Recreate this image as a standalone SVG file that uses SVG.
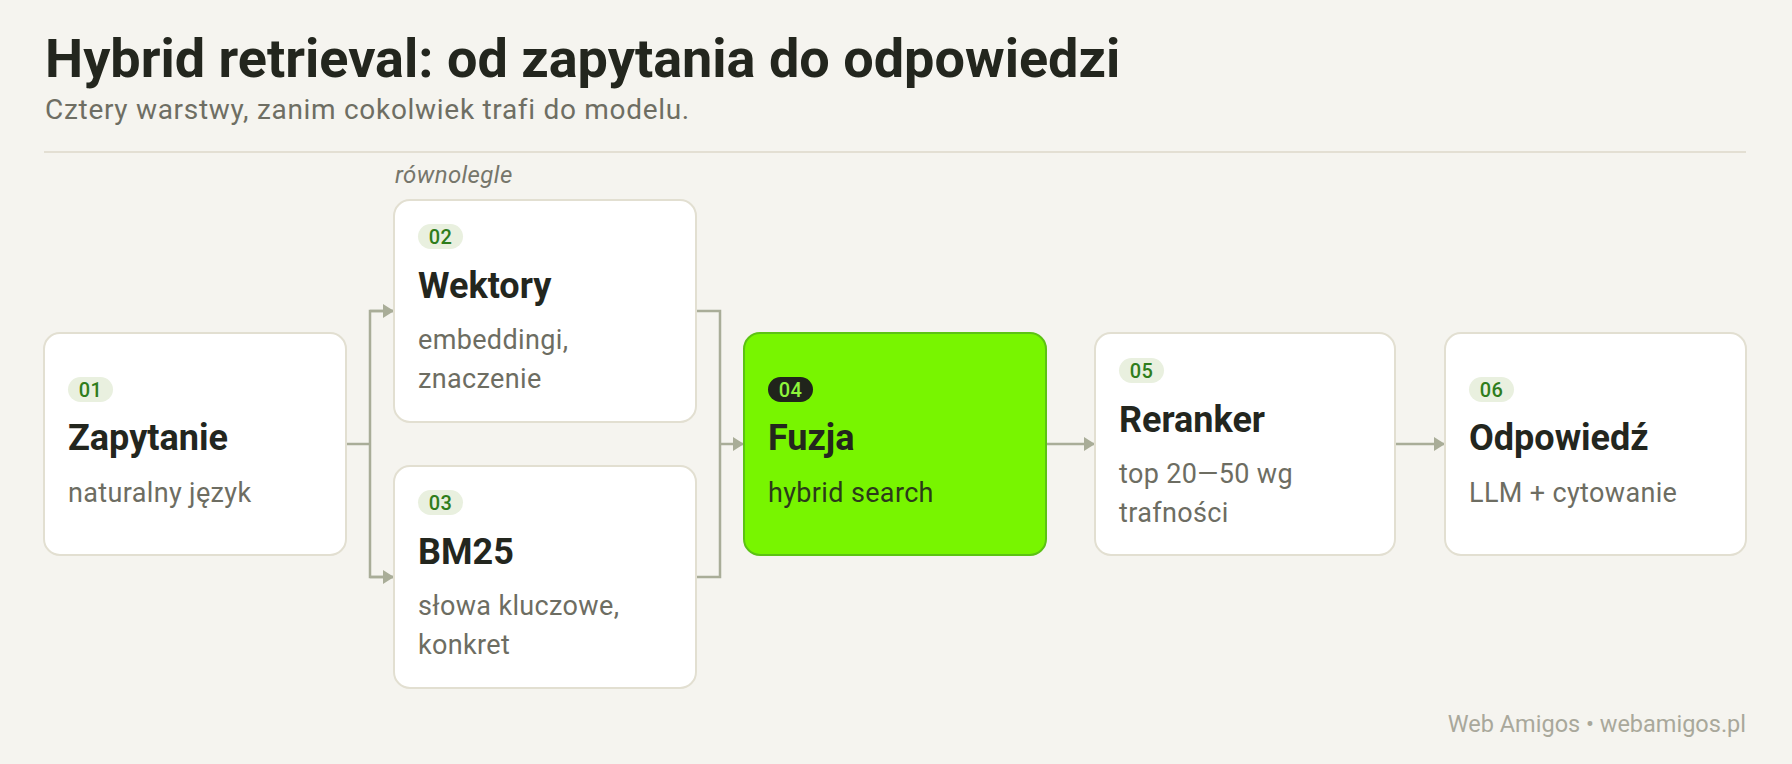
<svg xmlns="http://www.w3.org/2000/svg" width="1792" height="764" viewBox="0 0 1792 764">
<style>
.bg{fill:#f5f4ef}
.title{font-family:Roboto,"Liberation Sans",sans-serif;font-weight:700;font-size:54px;fill:#23261e}
.subtitle{font-family:Roboto,"Liberation Sans",sans-serif;font-size:28px;letter-spacing:0.7px;fill:#6e6e63}
.note{font-family:Roboto,"Liberation Sans",sans-serif;font-style:italic;font-size:24px;letter-spacing:0.4px;fill:#76766b}
.card{fill:#ffffff;stroke:#e2dfd1;stroke-width:2}
.card-hl{fill:#78f500;stroke:#5cc214;stroke-width:2}
.pill{fill:#e9f0df}
.pill-dark{fill:#20241b}
.num{font-family:Roboto,"Liberation Sans",sans-serif;font-weight:500;font-size:20px;letter-spacing:0.5px;fill:#2f7d1c;text-anchor:middle}
.num-hl{fill:#8ff53a}
.h{font-family:Roboto,"Liberation Sans",sans-serif;font-weight:700;font-size:36px;fill:#23261e}
.d{font-family:Roboto,"Liberation Sans",sans-serif;font-size:27px;letter-spacing:0.35px;fill:#6d6d62}
.d-hl{fill:#2b3a1a}
.conn{fill:none;stroke:#a9ad98;stroke-width:2.5}
.foot{font-family:Roboto,"Liberation Sans",sans-serif;font-size:23.5px;fill:#a9a89b;text-anchor:end}
</style>
<defs>
<marker id="arr" markerUnits="userSpaceOnUse" markerWidth="12" markerHeight="16" refX="11" refY="7" orient="auto">
<path d="M0,0 L11,7 L0,14 z" fill="#a9ad98"/>
</marker>
</defs>
<rect class="bg" x="0" y="0" width="1792" height="764"/>
<text class="title" x="45" y="77">Hybrid retrieval: od zapytania do odpowiedzi</text>
<text class="subtitle" x="45" y="119">Cztery warstwy, zanim cokolwiek trafi do modelu.</text>
<rect x="44" y="151" width="1702" height="2" fill="#e3dfd3"/>
<text class="note" x="395" y="183">równolegle</text>

<g id="connectors">
<polyline class="conn" points="346,444 370,444"/>
<polyline class="conn" points="394,311 370,311 370,577 394,577"/>
<line class="conn" x1="370" y1="311" x2="394" y2="311" marker-end="url(#arr)"/>
<line class="conn" x1="370" y1="577" x2="394" y2="577" marker-end="url(#arr)"/>
<polyline class="conn" points="696,311 720,311 720,577 696,577"/>
<line class="conn" x1="720" y1="444" x2="744" y2="444" marker-end="url(#arr)"/>
<line class="conn" x1="1046" y1="444" x2="1095" y2="444" marker-end="url(#arr)"/>
<line class="conn" x1="1395" y1="444" x2="1445" y2="444" marker-end="url(#arr)"/>
</g>

<g id="node-01">
<rect class="card" x="44" y="333" width="302" height="222" rx="16"/>
<rect class="pill" x="68" y="377" width="45" height="25" rx="12.5"/>
<text class="num" x="90.5" y="396.5">01</text>
<text class="h" x="68" y="450">Zapytanie</text>
<text class="d" x="68" y="502">naturalny język</text>
</g>

<g id="node-02">
<rect class="card" x="394" y="200" width="302" height="222" rx="16"/>
<rect class="pill" x="418" y="224" width="45" height="25" rx="12.5"/>
<text class="num" x="440.5" y="243.5">02</text>
<text class="h" x="418" y="298">Wektory</text>
<text class="d" x="418" y="349">embeddingi,</text>
<text class="d" x="418" y="388">znaczenie</text>
</g>

<g id="node-03">
<rect class="card" x="394" y="466" width="302" height="222" rx="16"/>
<rect class="pill" x="418" y="490" width="45" height="25" rx="12.5"/>
<text class="num" x="440.5" y="509.5">03</text>
<text class="h" x="418" y="564">BM25</text>
<text class="d" x="418" y="615">słowa kluczowe,</text>
<text class="d" x="418" y="654">konkret</text>
</g>

<g id="node-04">
<rect class="card-hl" x="744" y="333" width="302" height="222" rx="16"/>
<rect class="pill-dark" x="768" y="377" width="45" height="25" rx="12.5"/>
<text class="num num-hl" x="790.5" y="396.5">04</text>
<text class="h" x="768" y="450">Fuzja</text>
<text class="d d-hl" x="768" y="502">hybrid search</text>
</g>

<g id="node-05">
<rect class="card" x="1095" y="333" width="300" height="222" rx="16"/>
<rect class="pill" x="1119" y="358" width="45" height="25" rx="12.5"/>
<text class="num" x="1141.5" y="377.5">05</text>
<text class="h" x="1119" y="432">Reranker</text>
<text class="d" x="1119" y="483">top 20—50 wg</text>
<text class="d" x="1119" y="522">trafności</text>
</g>

<g id="node-06">
<rect class="card" x="1445" y="333" width="301" height="222" rx="16"/>
<rect class="pill" x="1469" y="377" width="45" height="25" rx="12.5"/>
<text class="num" x="1491.5" y="396.5">06</text>
<text class="h" x="1469" y="450">Odpowiedź</text>
<text class="d" x="1469" y="502">LLM + cytowanie</text>
</g>

<text class="foot" x="1746" y="732">Web Amigos • webamigos.pl</text>
</svg>
